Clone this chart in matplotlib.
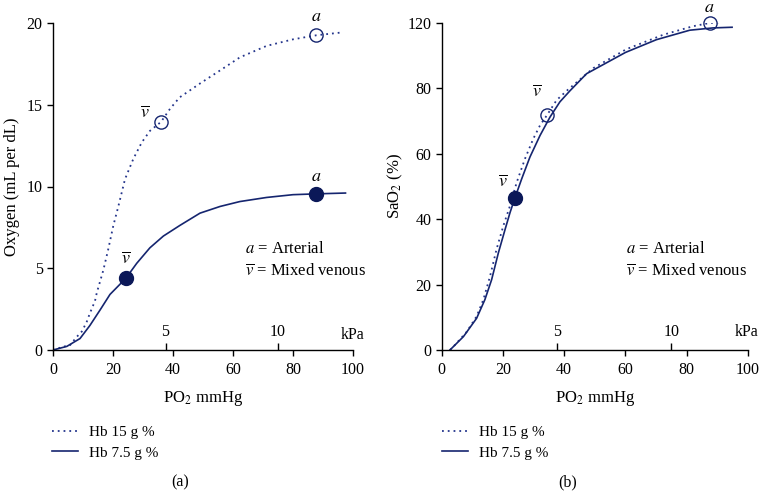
import matplotlib
matplotlib.use("Agg")
import matplotlib.pyplot as plt

plt.rcParams['font.family'] = ['Liberation Serif', 'DejaVu Serif']
plt.rcParams['mathtext.fontset'] = 'stix'

# ---------------- data ----------------
# Panel (a): oxygen content (mL per dL) vs PO2 (mmHg)
a_hb15_x = [0, 3.4, 5.7, 7.9, 9.6, 11.2, 12.3, 14.0, 14.6, 16.8, 18.4, 20.1, 21.8, 24.0, 26.8,
            29.6, 32.3, 36.0, 39.0, 42.2, 49.0, 55.7, 62.3, 71.2, 80.0, 87.8, 96.7]
a_hb15_y = [0, 0.2, 0.3, 0.8, 1.13, 1.7, 2.25, 3.0, 3.5, 4.9, 6.15, 7.6, 8.8, 10.45, 11.7,
            12.7, 13.4, 13.95, 14.75, 15.45, 16.3, 17.1, 17.9, 18.6, 19.0, 19.25, 19.43]
a_hb75_x = [0, 4.6, 9.0, 12.3, 15.7, 19.0, 24.3, 27.9, 32.3, 36.8, 42.3, 49.0, 55.7, 62.3,
            71.2, 80.0, 87.8, 97.5]
a_hb75_y = [0, 0.22, 0.7, 1.5, 2.45, 3.4, 4.39, 5.3, 6.25, 6.97, 7.62, 8.37, 8.78, 9.08,
            9.33, 9.5, 9.55, 9.6]
a_open_x = [36.0, 87.8]
a_open_y = [13.95, 19.25]
a_fill_x = [24.3, 87.8]
a_fill_y = [4.39, 9.55]

# Panel (b): SaO2 (%) vs PO2 (mmHg)
b_hb15_x = [2.7, 3.8, 8.2, 11.4, 13.6, 15.8, 17.9, 20.1, 22.3, 24.5, 27.2, 29.9, 32.1, 34.5,
            37.5, 41.2, 49.5, 60.3, 72.3, 82.0, 87.5, 94.0]
b_hb15_y = [0, 1.0, 5.6, 10.3, 15.4, 22.6, 30.8, 37.9, 44.1, 51.3, 58.5, 64.6, 68.7, 72.0,
            76.4, 79.6, 86.2, 92.0, 96.4, 99.0, 100.0, 100.5]
b_hb75_x = [2.7, 7.1, 11.4, 14.1, 16.3, 18.5, 20.7, 22.3, 23.9, 26.1, 28.8, 32.1, 35.4, 38.6,
            41.9, 47.3, 60.0, 70.1, 81.0, 88.6, 94.8]
b_hb75_y = [0, 4.1, 9.7, 15.4, 21.5, 29.7, 36.9, 42.0, 46.5, 52.3, 59.0, 65.6, 71.3, 75.9,
            79.3, 84.5, 91.0, 94.9, 97.8, 98.5, 98.7]
b_open_x = [34.5, 87.5]
b_open_y = [72.0, 100.0]
b_fill_x = [23.9]
b_fill_y = [46.5]

x_ticks = [0, 20, 40, 60, 80, 100]
a_yticks = [0, 5, 10, 15, 20]
b_yticks = [0, 20, 40, 60, 80, 100]
b_ytick_labels = ['0', '20', '40', '60', '80', '120']
kpa_ticks = [5, 10]
MMHG_PER_KPA = 7.5

LINE = '#15256f'
DOT = '#24358c'
FILL = '#0b1858'
VBAR = r'$\overline{v}$'

fig = plt.figure(figsize=(7.6, 4.93), dpi=100)
axA = fig.add_axes([53 / 760, 1 - 350 / 493, 300 / 760, 327 / 493])
axB = fig.add_axes([441.7 / 760, 1 - 350 / 493, 306.3 / 760, 327 / 493])


def style(ax, yticks, ylabels=None):
    ax.set_xlim(0, 100)
    ax.set_xticks(x_ticks)
    ax.set_yticks(yticks)
    if ylabels is not None:
        ax.set_yticklabels(ylabels)
    for s in ['top', 'right']:
        ax.spines[s].set_visible(False)
    for s in ['left', 'bottom']:
        ax.spines[s].set_linewidth(1.0)
    ax.tick_params(direction='out', length=4.5, width=1.0, labelsize=11.5, pad=4)
    ax.tick_params(axis='y', pad=3)
    sec = ax.secondary_xaxis(0, functions=(lambda m: m / MMHG_PER_KPA, lambda k: k * MMHG_PER_KPA))
    sec.set_alignment('top')
    sec.set_xticks(kpa_ticks)
    sec.tick_params(direction='out', length=5, width=1.0, labelsize=11.5, pad=2)
    sec.spines['top'].set_visible(False)
    sec.spines['bottom'].set_visible(False)
    ax.set_xlabel(r'PO$_2$ mmHg', fontsize=12, labelpad=8)


# ---------------- panel (a) ----------------
axA.set_ylim(0, 20)
style(axA, a_yticks)
axA.plot(a_hb15_x, a_hb15_y, color=DOT, lw=1.3, ls=(0, (1, 2.2)), label='Hb 15 g %')
axA.plot(a_hb75_x, a_hb75_y, color=LINE, lw=1.2, label='Hb 7.5 g %')
axA.plot(a_open_x, a_open_y, 'o', ms=9.5, mfc='none', mec=LINE, mew=1.0, clip_on=False)
axA.plot(a_fill_x, a_fill_y, 'o', ms=10, color=FILL, clip_on=False)
axA.text(30.7, 14.5, VBAR, fontsize=13, ha='center', va='center')
axA.text(87.8, 20.4, r'$a$', fontsize=13, ha='center', va='center')
axA.text(87.8, 10.6, r'$a$', fontsize=13, ha='center', va='center')
axA.text(24.4, 5.55, VBAR, fontsize=13, ha='center', va='center')
axA.text(64, 6.2, r'$a$ = Arterial', fontsize=12, ha='left', va='center')
axA.text(64, 4.8, VBAR + ' = Mixed venous', fontsize=12, ha='left', va='center')
axA.text(100, 0.9, 'kPa', fontsize=11.5, ha='center', va='center')
axA.set_ylabel('Oxygen (mL per dL)', fontsize=12, labelpad=5)

# ---------------- panel (b) ----------------
axB.set_ylim(0, 100)
style(axB, b_yticks, b_ytick_labels)
axB.plot(b_hb15_x, b_hb15_y, color=DOT, lw=1.3, ls=(0, (1, 2.2)), label='Hb 15 g %')
axB.plot(b_hb75_x, b_hb75_y, color=LINE, lw=1.2, label='Hb 7.5 g %')
axB.plot(b_open_x, b_open_y, 'o', ms=9.5, mfc='none', mec=LINE, mew=1.0, clip_on=False)
axB.plot(b_fill_x, b_fill_y, 'o', ms=10, color=FILL, clip_on=False)
axB.text(20.1, 51.5, VBAR, fontsize=13, ha='center', va='center')
axB.text(31.0, 78.8, VBAR, fontsize=13, ha='center', va='center')
axB.text(87.5, 104.6, r'$a$', fontsize=13, ha='center', va='center', clip_on=False)
axB.text(60.3, 30.8, r'$a$ = Arterial', fontsize=12, ha='left', va='center')
axB.text(60.3, 24.0, VBAR + ' = Mixed venous', fontsize=12, ha='left', va='center')
axB.text(99.5, 5.4, 'kPa', fontsize=11.5, ha='center', va='center')
axB.set_ylabel(r'SaO$_2$ (%)', fontsize=12, labelpad=2)

# legends below each panel
for ax, x0 in [(axA, 52 / 760), (axB, 442 / 760)]:
    ax.legend(loc='center left', bbox_to_anchor=(x0, 1 - 442.5 / 493),
              bbox_transform=fig.transFigure, frameon=False, fontsize=11,
              handlelength=1.7, handletextpad=0.7, labelspacing=0.45,
              borderpad=0, borderaxespad=0)

fig.text(180 / 760, 1 - 482 / 493, '(a)', fontsize=11.5, ha='center', va='center')
fig.text(568 / 760, 1 - 482 / 493, '(b)', fontsize=11.5, ha='center', va='center')

fig.savefig('out.png', dpi=100)
